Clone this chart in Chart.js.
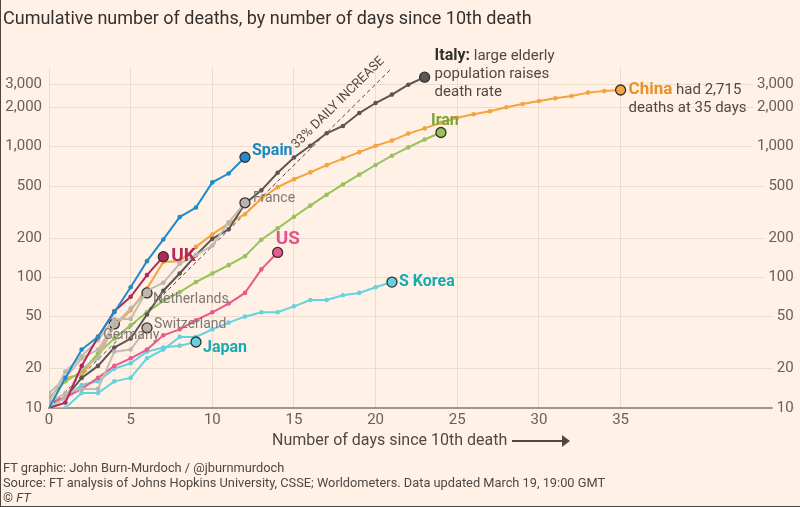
<!DOCTYPE html>
<html>
<head>
<meta charset="utf-8">
<script src="https://cdn.jsdelivr.net/npm/chart.js@4.4.1/dist/chart.umd.min.js"></script>
<style>
  html, body { margin: 0; padding: 0; background: #fff1e5; }
  #wrap { position: relative; width: 800px; height: 507px; overflow: hidden; font-family: Roboto, sans-serif; color: #33302e; }
  #wrap::after { content: ""; position: absolute; left: 0; top: 0; right: 0; bottom: 0; border-left: 1px solid #4a4441; border-bottom: 1px solid #4a4441; pointer-events: none; }
  canvas { position: absolute; left: 0; top: 0; }
  #title { position: absolute; left: 3px; top: 7px; font-size: 18px; white-space: nowrap; }
  #xtitle { position: absolute; left: 272px; top: 430px; font-size: 16px; color: #4e4845; white-space: nowrap; }
  #xtitle .arrow { display: inline-block; position: relative; width: 52px; height: 2px; background: #4e4845; vertical-align: middle; margin-left: 5px; }
  #xtitle .arrow::after { content: ""; position: absolute; right: -6px; top: -5px; border-left: 8px solid #4e4845; border-top: 6px solid transparent; border-bottom: 6px solid transparent; }
  .foot { position: absolute; left: 3px; font-size: 12.8px; color: #4e4845; white-space: nowrap; }
</style>
</head>
<body>
<div id="wrap">
  <canvas id="myChart" width="800" height="507"></canvas>
  <div id="title">Cumulative number of deaths, by number of days since 10th death</div>
  <div id="xtitle">Number of days since 10th death<span class="arrow"></span></div>
  <div class="foot" style="top:460px">FT graphic: John Burn-Murdoch / @jburnmurdoch</div>
  <div class="foot" style="top:475px">Source: FT analysis of Johns Hopkins University, CSSE; Worldometers. Data updated March 19, 19:00 GMT</div>
  <div class="foot" style="top:490px">© <i>FT</i></div>
</div>
<script>
// deaths by day since 10th death (index = day)
var spain = [10, 17, 28, 35, 54, 84, 133, 195, 289, 342, 533, 623, 830];
var italy = [11, 12, 17, 21, 29, 34, 52, 79, 107, 148, 197, 233, 366, 463, 631, 827, 1016, 1266, 1441, 1809, 2158, 2503, 2978, 3405];
var china = [10, 17, 18, 26, 42, 56, 82, 131, 133, 171, 213, 259, 304, 400, 490, 563, 636, 722, 811, 908, 1016, 1113, 1259, 1380, 1523, 1665, 1770, 1868, 2004, 2118, 2236, 2345, 2442, 2592, 2663, 2715];
var iran = [12, 16, 19, 26, 34, 43, 54, 66, 77, 92, 107, 124, 145, 194, 237, 291, 354, 429, 514, 611, 724, 853, 988, 1135, 1284];
var france = [11, 19, 25, 33, 48, 48, 79, 91, 127, 148, 175, 264, 372];
var uk = [10, 11, 21, 35, 55, 71, 104, 144];
var us = [11, 12, 14, 17, 21, 24, 28, 36, 40, 47, 54, 63, 76, 115, 155];
var korea = [10, 10, 13, 13, 16, 17, 24, 28, 35, 35, 40, 45, 50, 54, 54, 60, 67, 67, 73, 76, 84, 92];
var japan = [10, 12, 15, 16, 20, 22, 27, 29, 30, 32];
var germany = [13, 17, 24, 28, 44];
var netherlands = [10, 12, 20, 24, 43, 58, 76];
var switzerland = [11, 13, 14, 14, 27, 28, 41];

// 33% daily increase guide (end points)
var guideDays = [0, 21];
var guideValues = [10, 4000];

var xTicks = [0, 5, 10, 15, 20, 25, 30, 35];
var yTicks = [10, 20, 50, 100, 200, 500, 1000, 2000, 3000];

var BG = "#fff1e5";
var GREY = "#c4bbb3";
var FONT = "Roboto, sans-serif";

function toPoints(arr) {
  return arr.map(function (v, i) { return { x: i, y: v }; });
}

function series(data, color, fill) {
  var last = data.length - 1;
  return {
    data: toPoints(data),
    borderColor: color,
    borderWidth: 2,
    backgroundColor: color,
    pointBackgroundColor: fill || color,
    pointRadius: function (c) { return c.dataIndex === last ? 5 : 2.3; },
    pointBorderWidth: function (c) { return c.dataIndex === last ? 1.3 : 0; },
    pointBorderColor: function (c) { return c.dataIndex === last ? "#33302e" : color; },
    tension: 0,
  };
}

// first in list is drawn on top
var datasets = [
  series(spain, "#1e8ccb"),
  series(uk, "#b3295a"),
  series(france, GREY, "#bdb4ac"),
  series(netherlands, GREY, "#bdb4ac"),
  series(germany, GREY, "#bdb4ac"),
  series(switzerland, GREY, "#bdb4ac"),
  series(us, "#ea5a8c"),
  series(italy, "#5b5654"),
  series(iran, "#98c25c"),
  series(china, "#f3a43f"),
  series(japan, "#66d2e0"),
  series(korea, "#66d2e0"),
  {
    data: guideDays.map(function (d, i) { return { x: d, y: guideValues[i] }; }),
    borderColor: "#4e4845",
    borderWidth: 1,
    borderDash: [4, 3],
    pointRadius: 0,
  },
];

var labels = [
  { s: spain, dx: 7, dy: -6, runs: [["Spain", "bold 16px", "#1a86c2"]] },
  { s: italy, dx: 10, dy: -21, runs: [["Italy:", "bold 16px", "#33302e"], [" large elderly", "15px", "#4e4845"]] },
  { s: italy, dx: 10, dy: -3, runs: [["population raises", "15px", "#4e4845"]] },
  { s: italy, dx: 10, dy: 15, runs: [["death rate", "15px", "#4e4845"]] },
  { s: china, dx: 8, dy: 0, runs: [["China", "bold 17px", "#ec8f26"], [" had 2,715", "15px", "#4e4845"]] },
  { s: china, dx: 8, dy: 18, runs: [["deaths at 35 days", "15px", "#4e4845"]] },
  { s: iran, dx: -10, dy: -11, runs: [["Iran", "bold 16px", "#7da23a"]] },
  { s: france, dx: 8, dy: -4, runs: [["France", "14px", "#7f7771"]] },
  { s: uk, dx: 8, dy: 0, runs: [["UK", "bold 19px", "#b3295a"]] },
  { s: us, dx: -2, dy: -13, runs: [["US", "bold 19px", "#e8508a"]] },
  { s: korea, dx: 7, dy: 0, runs: [["S Korea", "bold 16px", "#16aab3"]] },
  { s: netherlands, dx: 6, dy: 7, runs: [["Netherlands", "14px", "#7f7771"]] },
  { s: switzerland, dx: 7, dy: -3, runs: [["Switzerland", "14px", "#7f7771"]] },
  { s: germany, dx: -11, dy: 12, runs: [["Germany", "14px", "#7f7771"]] },
  { s: japan, dx: 7, dy: 6, runs: [["Japan", "bold 16px", "#16aab3"]] },
];

var labelPlugin = {
  id: "countryLabels",
  afterDatasetsDraw: function (chart) {
    var ctx = chart.ctx;
    var xs = chart.scales.x;
    var ys = chart.scales.y;
    ctx.save();
    ctx.textBaseline = "middle";
    ctx.textAlign = "left";
    labels.forEach(function (l) {
      var last = l.s.length - 1;
      var x = xs.getPixelForValue(last) + l.dx;
      var y = ys.getPixelForValue(l.s[last]) + l.dy;
      l.runs.forEach(function (r) {
        ctx.font = r[1] + " " + FONT;
        ctx.fillStyle = r[2];
        ctx.fillText(r[0], x, y);
        x += ctx.measureText(r[0]).width;
      });
    });

    // guide label, rotated along the dashed line
    var x0 = xs.getPixelForValue(guideDays[0]), y0 = ys.getPixelForValue(guideValues[0]);
    var x1 = xs.getPixelForValue(guideDays[1]), y1 = ys.getPixelForValue(guideValues[1]);
    var ang = Math.atan2(y1 - y0, x1 - x0);
    var t = 0.87;
    var cx = x0 + (x1 - x0) * t, cy = y0 + (y1 - y0) * t;
    ctx.translate(cx, cy);
    ctx.rotate(ang);
    ctx.font = "13px " + FONT;
    ctx.fillStyle = "#4e4845";
    ctx.textAlign = "center";
    ctx.fillText("33% DAILY INCREASE", 0, -13);
    ctx.restore();
  },
};

function setTicks(list) {
  return function (scale) {
    scale.ticks = list.map(function (v) { return { value: v }; });
  };
}

var tickFont = { family: FONT, size: 15 };

var ctx = document.getElementById("myChart");
var myChart = new Chart(ctx, {
  type: "line",
  data: { datasets: datasets },
  options: {
    responsive: false,
    animation: false,
    layout: { padding: { top: 68, right: 3, bottom: 0, left: 0 } },
    plugins: { legend: { display: false }, tooltip: { enabled: false } },
    scales: {
      x: {
        type: "linear",
        min: 0,
        max: 45.6,
        afterBuildTicks: setTicks(xTicks),
        afterFit: function (s) { s.height = 99; },
        grid: { color: "#eadccf", drawTicks: false },
        border: { display: true, color: "#a0968f", width: 2 },
        ticks: { padding: 3, font: tickFont, color: "#66605c", maxRotation: 0 },
      },
      y: {
        type: "logarithmic",
        position: "left",
        min: 10,
        max: 4000,
        afterBuildTicks: setTicks(yTicks),
        afterFit: function (s) { s.width = 49; },
        grid: { color: "#eadccf", drawTicks: false },
        border: { display: false },
        ticks: {
          padding: 7,
          font: tickFont,
          color: "#66605c",
          callback: function (v) { return Number(v).toLocaleString("en-US"); },
        },
      },
      y2: {
        type: "logarithmic",
        position: "right",
        min: 10,
        max: 4000,
        afterBuildTicks: setTicks(yTicks),
        afterFit: function (s) { s.width = 0; },
        grid: { display: false },
        border: { display: false },
        ticks: {
          mirror: true,
          padding: 0,
          z: 1,
          showLabelBackdrop: true,
          backdropColor: BG,
          backdropPadding: { top: 0, bottom: 0, left: 4, right: 0 },
          font: tickFont,
          color: "#66605c",
          callback: function (v) { return Number(v).toLocaleString("en-US"); },
        },
      },
    },
  },
  plugins: [labelPlugin],
});
</script>
</body>
</html>
